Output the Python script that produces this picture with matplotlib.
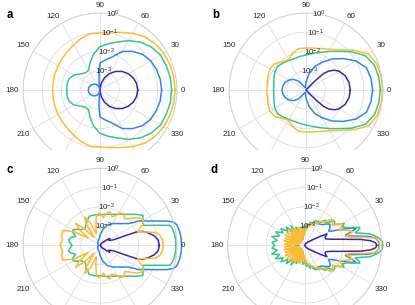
import numpy as np
import matplotlib
matplotlib.use('Agg')
import matplotlib.pyplot as plt
from matplotlib.patches import Rectangle
from matplotlib.ticker import NullLocator

plt.rcParams['font.family'] = ['Liberation Sans', 'DejaVu Sans']
plt.rcParams['mathtext.fontset'] = 'custom'
plt.rcParams['mathtext.rm'] = 'Liberation Sans'
plt.rcParams['mathtext.it'] = 'Liberation Sans:italic'
plt.rcParams['mathtext.bf'] = 'Liberation Sans:bold'

# line colours, in drawing order
colors = ['#3e26a8', '#2e87f0', '#3cc38d', '#fbbc34']

# half patterns (0..180 deg), log10 of the radial value; lower half is the mirror image
# ---- panel a
a_theta = [0, 10, 20, 30, 40, 50, 60, 70, 80, 90, 100, 110, 120, 130, 140, 150, 160, 170, 180]
a_purple_theta = [0, 10, 20, 30, 40, 50, 60, 70, 80, 90]
a_purple = [-2.04, -2.07, -2.16, -2.31, -2.50, -2.74, -3.02, -3.33, -3.66, -4.0]
a_blue_theta = [0, 10, 20, 30, 40, 50, 60, 70, 80, 90, 93, 96, 100, 110, 120, 135, 150, 165, 180]
a_blue = [-0.80, -0.82, -0.88, -0.96, -1.12, -1.38, -1.69, -2.18, -2.42, -2.60,
          -3.07, -3.53, -3.92, -3.79, -3.69, -3.56, -3.47, -3.41, -3.39]
a_teal = [-0.28, -0.29, -0.33, -0.37, -0.52, -0.75, -1.04, -1.35, -1.56, -1.75,
          -2.10, -2.49, -2.81, -2.83, -2.70, -2.44, -2.29, -2.26, -2.27]
a_yellow = [-0.10, -0.11, -0.14, -0.18, -0.26, -0.39, -0.60, -0.82, -0.96, -1.04,
            -1.04, -1.14, -1.28, -1.38, -1.44, -1.48, -1.51, -1.53, -1.54]

# ---- panel b
b_theta = [0, 10, 20, 30, 40, 50, 60, 70, 80, 90, 100, 110, 120, 130, 140, 150, 160, 170, 180]
b_purple_theta = [0, 10, 20, 30, 35, 40, 43, 45, 47, 50]
b_purple = [-1.70, -1.73, -1.83, -2.03, -2.21, -2.47, -2.75, -3.27, -3.79, -4.0]
b_blue = [-0.54, -0.57, -0.65, -0.99, -1.46, -1.90, -2.34, -2.70, -3.17, -3.58,
          -3.84, -3.87, -3.79, -3.39, -3.14, -2.97, -2.85, -2.78, -2.75]
b_teal = [-0.14, -0.16, -0.22, -0.44, -0.91, -1.38, -1.69, -1.92, -2.08, -2.18,
          -2.23, -2.26, -2.23, -2.16, -2.08, -2.13, -2.23, -2.30, -2.32]
b_yellow = [-0.03, -0.03, -0.08, -0.26, -0.78, -1.27, -1.56, -1.71, -1.79, -1.82,
            -1.82, -1.97, -2.18, -2.08, -1.87, -1.82, -1.90, -1.96, -1.97]

# ---- panel c
c_purple_theta = [0, 5, 10, 15, 18, 20, 21, 22, 25, 30, 35, 40, 50, 60]
c_purple = [-0.92, -0.96, -1.14, -1.45, -1.66, -1.92, -2.70, -3.22, -3.38, -3.48,
            -3.38, -3.58, -3.84, -4.0]
c_blue_theta = [0, 5, 10, 15, 17.5, 20, 22.5, 25, 27.5, 30, 32.5, 34, 37.5, 40, 45, 50,
                55, 60, 70, 80, 90, 100, 110, 120, 140, 160, 180]
c_blue = [0.24, 0.23, 0.20, 0.13, 0.0, -0.31, -0.70, -1.01, -1.27, -1.48, -1.65, -1.87,
          -2.15, -2.24, -2.41, -2.53, -2.62, -2.70, -2.88, -3.17, -3.48, -3.69, -3.74,
          -3.79, -3.84, -3.90, -3.90]
c_teal_theta = [0, 5, 10, 14, 16, 18, 20, 22, 25, 28, 32, 35, 40, 50, 60, 70, 80, 90, 100,
                110, 120, 130, 140, 145, 150, 155, 160, 165, 170, 175, 180]
c_teal = [-0.05, -0.06, -0.10, -0.16, -0.23, -0.64, -0.96, -1.23, -1.54, -1.47, -1.37,
          -1.28, -1.50, -1.90, -2.14, -2.29, -2.36, -2.42, -2.39, -2.39, -2.60, -2.81,
          -2.75, -2.55, -2.39, -2.44, -2.65, -2.44, -2.34, -2.44, -2.55]
c_yellow_theta = [0, 5, 10, 13, 15, 17, 20, 23, 27, 32, 37, 42, 47, 53, 58, 63, 68, 73, 78,
                  83, 88, 93, 98, 103, 108, 113, 118, 123, 128, 133, 138, 143, 148, 153,
                  158, 165, 172, 180]
c_yellow = [-0.71, -0.74, -0.86, -1.04, -1.35, -1.64, -1.92, -1.77, -1.46, -1.40, -1.61,
            -1.92, -2.13, -1.95, -2.03, -2.29, -2.39, -2.18, -2.29, -2.55, -2.39, -2.32,
            -2.55, -3.07, -3.38, -2.75, -2.34, -2.65, -3.48, -2.86, -2.29, -2.70, -3.27,
            -2.44, -1.92, -1.92, -2.03, -1.92]

# ---- panel d
d_purple_theta = [0, 2, 4, 6, 8, 10, 13, 17, 22, 27, 30, 35, 45, 60, 90]
d_purple = [-0.26, -0.31, -0.57, -1.09, -1.77, -2.18, -2.60, -2.86, -2.86, -2.70, -3.07,
            -3.48, -3.74, -3.90, -4.0]
d_blue_theta = [0, 3, 6, 8, 10, 12, 14, 16, 18, 20, 22, 25, 28, 31, 35, 40, 45, 50, 55, 60,
                65, 70, 75, 80, 85, 90, 95, 100, 110, 120, 130, 140, 150, 160, 170, 180]
d_blue = [-0.13, -0.16, -0.31, -0.68, -1.25, -1.66, -1.82, -1.51, -1.20, -1.40, -1.71,
          -2.13, -2.44, -2.55, -2.39, -2.29, -2.44, -2.60, -2.65, -2.70, -2.60, -2.75,
          -2.91, -3.01, -3.07, -3.17, -3.38, -3.58, -3.69, -3.64, -3.74, -3.64, -3.74,
          -3.58, -3.69, -3.53]
d_teal_theta = [0, 3, 6, 8, 10, 12, 14, 16, 18, 20, 23, 26, 29, 32, 35, 38, 41, 44, 47, 50,
                53, 56, 60, 64, 68, 72, 76, 80, 85, 90, 95, 100, 105, 110, 115, 120, 125,
                130, 135, 140, 145, 150, 155, 160, 165, 170, 175, 180]
d_teal = [0.05, 0.03, -0.16, -0.36, -0.57, -0.99, -1.30, -1.09, -0.99, -1.30, -1.66, -1.82,
          -1.66, -1.92, -2.13, -2.03, -2.03, -2.29, -2.39, -2.29, -2.44, -2.60, -2.55,
          -2.70, -2.65, -2.86, -2.75, -2.96, -2.91, -3.12, -3.01, -3.27, -3.07, -3.38,
          -2.96, -3.22, -2.75, -3.07, -2.65, -2.86, -2.49, -2.70, -2.34, -2.60, -2.23,
          -2.55, -2.29, -2.45]
d_yellow_theta = [0, 3, 6, 8, 10, 12, 14, 16, 18, 21, 24, 27, 30, 33, 36, 39, 42, 45, 48,
                  51, 54, 57, 60, 64, 68, 72, 76, 80, 84, 88, 92, 96, 100, 104, 108, 112,
                  116, 120, 124, 128, 132, 136, 140, 144, 148, 152, 156, 160, 164, 168,
                  172, 176, 180]
d_yellow = [-0.10, -0.13, -0.36, -0.94, -1.56, -1.82, -1.61, -1.40, -1.56, -1.82, -2.03,
            -1.87, -1.77, -2.03, -2.23, -2.13, -2.03, -2.08, -2.34, -2.49, -2.44, -2.55,
            -2.70, -2.65, -2.86, -2.81, -3.01, -2.96, -3.22, -3.07, -3.48, -3.17, -3.58,
            -3.07, -3.69, -3.01, -3.69, -2.96, -3.74, -2.91, -3.74, -2.91, -3.74, -2.86,
            -3.74, -2.86, -3.74, -2.91, -3.69, -2.91, -3.64, -2.96, -3.27]

theta_ticks = [0, 30, 60, 90, 120, 150, 180, 210, 240, 270, 300, 330]
theta_labels = ['0', '30', '60', '90', '120', '150', '180', '210', '', '', '', '330']
r_ticks = [1e-3, 1e-2, 1e-1, 1e0]
r_labels = ['$10^{-3}$', '$10^{-2}$', '$10^{-1}$', '$10^{0}$']

# MATLAB-like anchoring of the angle labels
label_align = {0: ('left', 'center'), 30: ('left', 'bottom'), 60: ('left', 'bottom'),
               90: ('center', 'bottom'), 120: ('right', 'bottom'), 150: ('right', 'bottom'),
               180: ('right', 'center'), 210: ('right', 'top'), 240: ('right', 'top'),
               270: ('center', 'top'), 300: ('left', 'top'), 330: ('left', 'top')}
label_r = 10 ** 0.21


def mirror(theta, logr):
    t = np.asarray(theta, float)
    v = np.asarray(logr, float)
    t_full = np.concatenate([t, 360 - t[::-1][1:]])
    v_full = np.concatenate([v, v[::-1][1:]])
    return np.deg2rad(t_full), 10.0 ** v_full


W, H = 415, 305
R = 77
fig = plt.figure(figsize=(W / 100, H / 100), dpi=100)

panels = [
    ('a', (100, 90), 0, [(a_purple_theta, a_purple), (a_blue_theta, a_blue),
                         (a_theta, a_teal), (a_theta, a_yellow)]),
    ('b', (306, 90), 0, [(b_purple_theta, b_purple), (b_theta, b_blue),
                         (b_theta, b_teal), (b_theta, b_yellow)]),
    ('c', (100, 245.3), 2, [(c_purple_theta, c_purple), (c_blue_theta, c_blue),
                            (c_teal_theta, c_teal), (c_yellow_theta, c_yellow)]),
    ('d', (304.7, 245.3), 2, [(d_purple_theta, d_purple), (d_blue_theta, d_blue),
                              (d_teal_theta, d_teal), (d_yellow_theta, d_yellow)]),
]

for letter, (cx, cy), z, series in panels:
    ax = fig.add_axes([(cx - R) / W, (H - cy - R) / H, 2 * R / W, 2 * R / H],
                      projection='polar')
    ax.set_zorder(z)
    ax.set_rscale('log')
    ax.set_rlim(1e-4, 1)
    ax.set_rticks(r_ticks)
    ax.yaxis.set_minor_locator(NullLocator())
    ax.set_yticklabels([])
    ax.set_thetagrids(theta_ticks, [''] * len(theta_ticks))
    ax.tick_params(axis='both', length=0)
    ax.grid(True, color='#dcdcdc', linewidth=0.6)
    ax.spines['polar'].set_color('#d0d0d0')
    ax.spines['polar'].set_linewidth(0.7)

    for (th, lr), col in zip(series, colors):
        t, r = mirror(th, lr)
        ax.plot(t, r, color=col, lw=1.1, clip_on=False, solid_joinstyle='round')

    for ang, lab in zip(theta_ticks, theta_labels):
        ha, va = label_align[ang]
        ax.text(np.deg2rad(ang), label_r, lab, ha=ha, va=va, fontsize=5.8,
                color='#262626', clip_on=False)

    for rv, rl in zip(r_ticks, r_labels):
        ax.text(np.deg2rad(80.5), rv, rl, ha='center', va='center',
                fontsize=5.8, color='#262626', zorder=5)

    fig.text((cx - 90.5) / W, 1 - (cy - 75) / H, letter, fontsize=8.3,
             fontweight='bold', ha='center', va='center')

# the top row is cut off where the bottom row begins
fig.add_artist(Rectangle((0, 0), 1, (H - 150) / H, transform=fig.transFigure,
                         facecolor='white', edgecolor='none', zorder=1))

fig.savefig('out.png', dpi=100)
